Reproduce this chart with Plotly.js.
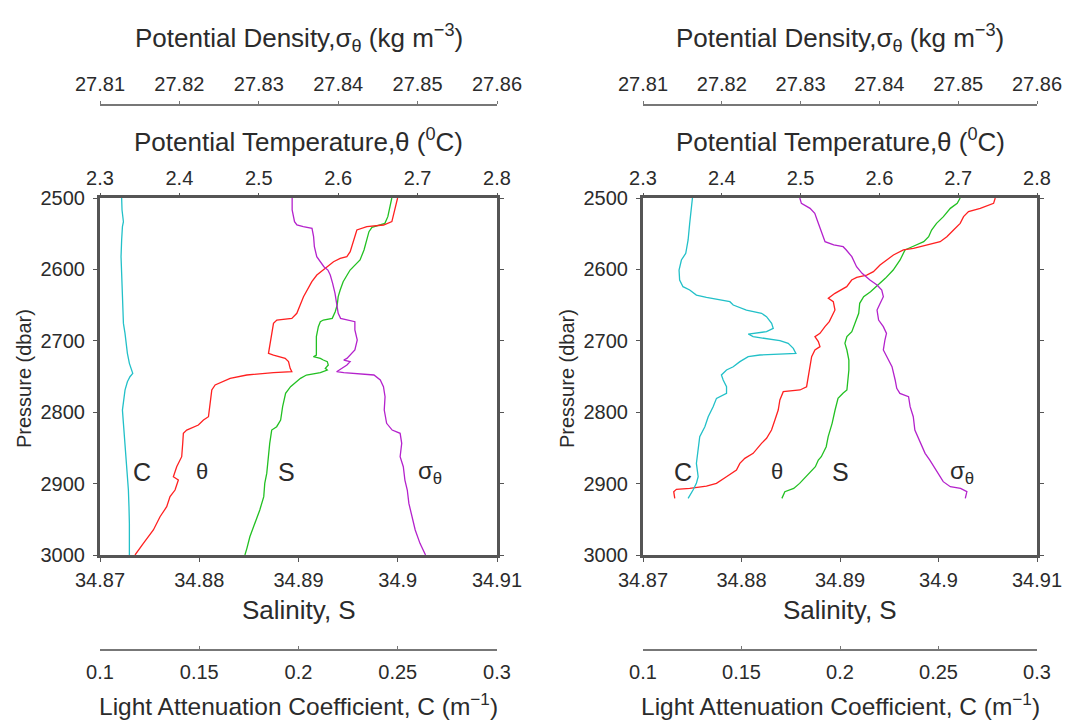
<!DOCTYPE html>
<html>
<head>
<meta charset="utf-8">
<script src="https://cdn.plot.ly/plotly-3.0.1.min.js"></script>
<style>html,body{margin:0;padding:0;background:#fff;}#chart{width:1065px;height:724px;}</style>
</head>
<body>
<div id="chart"></div>
<script>
// ---------- tick values / labels ----------
const pressureTicks = [2500, 2600, 2700, 2800, 2900, 3000];
const salinityTicks = [34.87, 34.88, 34.89, 34.90, 34.91];
const salinityLabels = ['34.87', '34.88', '34.89', '34.9', '34.91'];
const thetaTicks = [2.3, 2.4, 2.5, 2.6, 2.7, 2.8];
const thetaLabels = ['2.3', '2.4', '2.5', '2.6', '2.7', '2.8'];
const sigmaTicks = [27.81, 27.82, 27.83, 27.84, 27.85, 27.86];
const sigmaLabels = ['27.81', '27.82', '27.83', '27.84', '27.85', '27.86'];
const cTicks = [0.1, 0.15, 0.2, 0.25, 0.3];
const cLabels = ['0.1', '0.15', '0.2', '0.25', '0.3'];

// ---------- left panel ----------
const leftC_p = [2500, 2516.8, 2533.1, 2540.2, 2558.8, 2582.2, 2605.5, 2628.9, 2652.2, 2675.6, 2689.6, 2703.6, 2717.6, 2731.6, 2745.6, 2750.3, 2757.3, 2769.0, 2783.0, 2797.0, 2815.6, 2834.3, 2853.0, 2871.7, 2890.3, 2909.0, 2932.4, 2955.7, 3000];
const leftC = [0.1109, 0.1111, 0.1118, 0.1113, 0.1109, 0.1106, 0.1109, 0.1113, 0.1114, 0.1118, 0.1126, 0.1131, 0.1138, 0.1148, 0.1165, 0.1151, 0.1138, 0.1126, 0.1118, 0.1113, 0.1118, 0.1123, 0.1131, 0.1134, 0.1138, 0.1143, 0.1146, 0.1148, 0.1148];

const leftTheta_p = [2500, 2521.5, 2533.1, 2537.8, 2540.2, 2544.8, 2558.8, 2575.2, 2582.2, 2584.5, 2589.2, 2600.9, 2607.9, 2617.2, 2628.9, 2638.2, 2649.9, 2661.5, 2668.6, 2670.9, 2675.6, 2689.6, 2703.6, 2717.6, 2719.9, 2722.3, 2724.6, 2729.2, 2738.6, 2743.3, 2744.7, 2747.9, 2752.6, 2761.9, 2768.9, 2787.6, 2806.3, 2811.0, 2818.0, 2825.0, 2829.6, 2843.6, 2862.3, 2876.3, 2890.3, 2895.0, 2909.0, 2918.3, 2932.4, 2946.4, 2965.0, 2983.7, 2995.4, 3000];
const leftTheta = [2.6748, 2.6706, 2.6676, 2.6571, 2.6361, 2.6235, 2.6193, 2.6151, 2.6109, 2.6025, 2.5941, 2.5815, 2.5731, 2.5668, 2.5605, 2.5563, 2.5521, 2.5479, 2.5416, 2.5227, 2.5185, 2.5164, 2.5143, 2.5122, 2.5185, 2.5248, 2.5332, 2.5374, 2.5395, 2.5416, 2.5185, 2.4849, 2.4639, 2.4450, 2.4408, 2.4387, 2.4366, 2.4303, 2.4239, 2.4092, 2.4050, 2.4042, 2.4029, 2.3966, 2.3924, 2.3987, 2.3945, 2.3882, 2.3840, 2.3756, 2.3672, 2.3546, 2.3462, 2.3441];

const leftS_p = [2500, 2512.1, 2526.1, 2535.5, 2537.8, 2541.1, 2547.2, 2558.8, 2572.8, 2586.8, 2593.8, 2600.9, 2607.9, 2617.2, 2628.9, 2638.2, 2649.9, 2659.2, 2668.6, 2670.9, 2673.2, 2680.2, 2694.2, 2708.2, 2719.9, 2722.3, 2724.6, 2726.9, 2729.2, 2733.9, 2738.6, 2740.9, 2744.7, 2747.9, 2752.6, 2764.3, 2773.6, 2792.3, 2811.0, 2820.3, 2825.0, 2843.6, 2862.3, 2885.7, 2899.7, 2918.3, 2937.0, 2955.7, 2974.4, 2990.7, 3000];
const leftS = [34.8994, 34.8992, 34.8990, 34.8987, 34.8982, 34.8974, 34.8971, 34.8969, 34.8966, 34.8962, 34.8957, 34.8952, 34.8949, 34.8945, 34.8942, 34.8940, 34.8939, 34.8937, 34.8934, 34.8925, 34.8922, 34.8920, 34.8918, 34.8918, 34.8918, 34.8915, 34.8922, 34.8925, 34.8929, 34.8930, 34.8927, 34.8929, 34.8922, 34.8908, 34.8902, 34.8892, 34.8887, 34.8884, 34.8882, 34.8878, 34.8873, 34.8871, 34.8870, 34.8868, 34.8866, 34.8865, 34.8861, 34.8856, 34.8851, 34.8848, 34.8846];

const leftSigma_p = [2500, 2516.8, 2533.1, 2537.8, 2540.2, 2542.5, 2554.2, 2568.2, 2582.2, 2589.2, 2596.2, 2600.9, 2607.9, 2619.5, 2633.5, 2647.5, 2661.5, 2668.6, 2670.9, 2673.2, 2684.9, 2698.9, 2712.9, 2719.9, 2724.6, 2726.9, 2729.2, 2733.9, 2738.6, 2743.3, 2744.7, 2747.9, 2754.9, 2764.3, 2778.3, 2796.9, 2815.6, 2825.0, 2829.6, 2843.6, 2862.3, 2876.3, 2895.0, 2909.0, 2927.7, 2946.4, 2965.0, 2983.7, 2995.4, 3000];
const leftSigma = [27.8342, 27.8342, 27.8345, 27.8348, 27.8356, 27.8367, 27.8369, 27.8370, 27.8373, 27.8377, 27.8382, 27.8387, 27.8390, 27.8393, 27.8396, 27.8398, 27.8400, 27.8403, 27.8413, 27.8421, 27.8421, 27.8424, 27.8421, 27.8415, 27.8411, 27.8407, 27.8415, 27.8411, 27.8405, 27.8398, 27.8407, 27.8445, 27.8453, 27.8457, 27.8459, 27.8458, 27.8461, 27.8468, 27.8478, 27.8480, 27.8478, 27.8482, 27.8484, 27.8487, 27.8489, 27.8493, 27.8497, 27.8503, 27.8508, 27.8510];

// ---------- right panel ----------
const rightC_p = [2500, 2516.8, 2535.5, 2558.8, 2577.5, 2586.8, 2600.9, 2614.9, 2624.2, 2628.9, 2635.9, 2639.1, 2642.9, 2645.2, 2649.9, 2656.9, 2661.5, 2666.2, 2675.6, 2682.6, 2687.2, 2690.5, 2694.2, 2696.6, 2699.8, 2703.6, 2710.6, 2717.6, 2718.5, 2719.9, 2722.3, 2729.2, 2736.3, 2740.9, 2747.9, 2754.9, 2764.3, 2773.6, 2780.6, 2792.3, 2806.3, 2820.3, 2834.3, 2853.0, 2871.7, 2890.3, 2899.7, 2909.0, 2920.7];
const rightC = [0.1251, 0.1246, 0.1237, 0.1229, 0.1217, 0.1195, 0.1183, 0.1186, 0.1203, 0.1237, 0.1271, 0.1322, 0.1407, 0.1441, 0.1458, 0.1525, 0.1602, 0.1627, 0.1653, 0.1661, 0.1627, 0.1534, 0.1559, 0.1627, 0.1695, 0.1737, 0.1763, 0.1776, 0.1695, 0.1593, 0.1534, 0.1492, 0.1458, 0.1424, 0.1398, 0.1407, 0.1424, 0.1424, 0.1373, 0.1356, 0.1331, 0.1314, 0.1288, 0.1280, 0.1271, 0.1280, 0.1271, 0.1254, 0.1229];

const rightTheta_p = [2500, 2507.5, 2514.5, 2519.1, 2526.1, 2535.5, 2544.8, 2554.2, 2561.2, 2565.8, 2570.5, 2572.8, 2579.8, 2586.8, 2593.8, 2603.2, 2607.9, 2611.1, 2614.9, 2624.2, 2628.9, 2633.5, 2640.5, 2645.2, 2656.9, 2666.2, 2673.2, 2680.2, 2689.6, 2694.2, 2701.2, 2708.2, 2712.9, 2722.3, 2736.3, 2750.3, 2764.3, 2768.9, 2771.3, 2782.9, 2796.9, 2811.0, 2825.0, 2836.6, 2843.6, 2857.6, 2864.6, 2871.7, 2881.0, 2890.3, 2899.7, 2903.4, 2906.7, 2908.1, 2911.3, 2920.7];
const rightTheta = [2.7470, 2.7449, 2.7280, 2.7131, 2.7068, 2.7025, 2.6941, 2.6856, 2.6771, 2.6602, 2.6432, 2.6305, 2.6178, 2.6093, 2.6008, 2.5924, 2.5839, 2.5712, 2.5648, 2.5585, 2.5500, 2.5436, 2.5352, 2.5415, 2.5436, 2.5394, 2.5364, 2.5309, 2.5246, 2.5182, 2.5225, 2.5246, 2.5182, 2.5140, 2.5119, 2.5097, 2.5076, 2.4992, 2.4780, 2.4737, 2.4716, 2.4674, 2.4631, 2.4568, 2.4504, 2.4398, 2.4292, 2.4229, 2.4186, 2.4059, 2.3932, 2.3805, 2.3593, 2.3424, 2.3390, 2.3403];

const rightS_p = [2500, 2507.5, 2514.5, 2526.1, 2535.5, 2544.8, 2554.2, 2561.2, 2567.2, 2572.8, 2586.8, 2600.9, 2612.5, 2621.9, 2631.2, 2638.2, 2647.5, 2661.5, 2675.6, 2687.2, 2694.2, 2703.6, 2712.9, 2726.9, 2740.9, 2759.6, 2768.9, 2773.6, 2780.6, 2796.9, 2815.6, 2834.3, 2848.3, 2862.3, 2867.0, 2876.3, 2890.3, 2899.7, 2906.7, 2911.3, 2920.7];
const rightS = [34.9022, 34.9019, 34.9012, 34.9005, 34.8998, 34.8993, 34.8990, 34.8985, 34.8975, 34.8966, 34.8961, 34.8954, 34.8946, 34.8939, 34.8931, 34.8924, 34.8920, 34.8919, 34.8915, 34.8912, 34.8907, 34.8905, 34.8907, 34.8909, 34.8909, 34.8908, 34.8907, 34.8903, 34.8898, 34.8895, 34.8892, 34.8888, 34.8886, 34.8881, 34.8878, 34.8875, 34.8866, 34.8859, 34.8853, 34.8844, 34.8841];

const rightSigma_p = [2500, 2507.5, 2514.5, 2521.5, 2530.8, 2540.2, 2551.8, 2561.2, 2565.8, 2568.2, 2572.8, 2582.2, 2596.2, 2605.5, 2614.9, 2621.9, 2628.9, 2638.2, 2647.5, 2656.9, 2670.9, 2680.2, 2689.6, 2698.9, 2712.9, 2722.3, 2736.3, 2754.9, 2766.6, 2773.6, 2778.3, 2792.3, 2806.3, 2825.0, 2843.6, 2857.6, 2867.0, 2876.3, 2885.7, 2897.3, 2904.3, 2906.7, 2911.3, 2920.7];
const rightSigma = [27.8299, 27.8301, 27.8312, 27.8318, 27.8321, 27.8324, 27.8327, 27.8331, 27.8342, 27.8354, 27.8358, 27.8365, 27.8371, 27.8378, 27.8388, 27.8397, 27.8403, 27.8405, 27.8401, 27.8397, 27.8399, 27.8405, 27.8409, 27.8407, 27.8405, 27.8409, 27.8416, 27.8420, 27.8422, 27.8426, 27.8437, 27.8439, 27.8443, 27.8445, 27.8452, 27.8458, 27.8464, 27.8469, 27.8475, 27.8481, 27.8490, 27.8503, 27.8511, 27.8509];

// ---------- styling ----------
const FONT = '"Liberation Sans", Arial, Helvetica, sans-serif';
const TXT = '#2b2b2b';
const FRAME = '#555555';
const colC = '#22c0c8', colTheta = '#ff2020', colS = '#22c022', colSigma = '#b422cc';
const W = 1065, H = 724;
const leftDom = [100 / W, 497 / W];
const rightDom = [643 / W, 1037 / W];
const yDom = [1 - 555 / H, 1 - 198 / H];
const sigmaPos = 1 - 104 / H;
const cPos = 1 - 649 / H;
const tickFont = {family: FONT, size: 20, color: TXT};

function line(x, y, xa, ya, color) {
  return {x: x, y: y, xaxis: xa, yaxis: ya, type: 'scatter', mode: 'lines',
          line: {color: color, width: 1.3}, hoverinfo: 'skip', showlegend: false};
}

const data = [
  line(leftC, leftC_p, 'x4', 'y', colC),
  line(leftTheta, leftTheta_p, 'x2', 'y', colTheta),
  line(leftS, leftS_p, 'x', 'y', colS),
  line(leftSigma, leftSigma_p, 'x3', 'y', colSigma),
  line(rightC, rightC_p, 'x8', 'y2', colC),
  line(rightTheta, rightTheta_p, 'x6', 'y2', colTheta),
  line(rightS, rightS_p, 'x5', 'y2', colS),
  line(rightSigma, rightSigma_p, 'x7', 'y2', colSigma)
];

function salAxis(dom, ya) {
  return {domain: dom, anchor: ya, side: 'bottom', range: [34.87, 34.91], tickvals: salinityTicks, ticktext: salinityLabels,
          ticks: 'outside', ticklen: 4, tickwidth: 1, tickcolor: FRAME, showline: true, linewidth: 3, linecolor: FRAME,
          mirror: true, showgrid: false, zeroline: false, tickfont: tickFont, ticklabelstandoff: 1, fixedrange: true};
}
function thetaAxis(dom, base, ya) {
  return {domain: dom, overlaying: base, anchor: ya, side: 'top', range: [2.3, 2.8], tickvals: thetaTicks, ticktext: thetaLabels,
          ticks: 'outside', ticklen: 4, tickwidth: 1, tickcolor: FRAME, showline: false, showgrid: false, zeroline: false,
          tickfont: tickFont, ticklabelstandoff: 0, fixedrange: true};
}
function sigmaAxis(dom, base) {
  return {domain: dom, overlaying: base, anchor: 'free', position: sigmaPos, side: 'top', range: [27.81, 27.86],
          tickvals: sigmaTicks, ticktext: sigmaLabels, ticks: 'outside', ticklen: 3, tickwidth: 1, tickcolor: '#777',
          showline: true, linewidth: 1.5, linecolor: '#777', showgrid: false, zeroline: false, tickfont: tickFont,
          ticklabelstandoff: 2, fixedrange: true};
}
function cAxis(dom, base) {
  return {domain: dom, overlaying: base, anchor: 'free', position: cPos, side: 'bottom', range: [0.1, 0.3],
          tickvals: cTicks, ticktext: cLabels, ticks: 'inside', ticklen: 3, tickwidth: 1, tickcolor: '#777',
          showline: true, linewidth: 1.5, linecolor: '#777', showgrid: false, zeroline: false, tickfont: tickFont,
          ticklabelstandoff: 4, fixedrange: true};
}
function presAxis(xa) {
  return {domain: yDom, anchor: xa, range: [3000, 2500], tickvals: pressureTicks, ticktext: pressureTicks.map(String),
          ticks: 'outside', ticklen: 4, tickwidth: 1, tickcolor: FRAME, showline: true, linewidth: 3, linecolor: FRAME,
          mirror: 'ticks', showgrid: false, zeroline: false, tickfont: tickFont, ticklabelstandoff: 4, fixedrange: true};
}

function ann(text, xpx, ypx, size, extra) {
  return Object.assign({text: text, xref: 'paper', yref: 'paper', x: xpx / W, y: 1 - ypx / H,
          xanchor: 'center', yanchor: 'middle', showarrow: false,
          font: {family: FONT, size: size, color: TXT}}, extra || {});
}

const annotations = [];
[298.5, 840].forEach(function (cx) {
  annotations.push(ann('Potential Density,σ<sub>θ</sub> (kg m<sup>−3</sup>)', cx, 38, 26));
  annotations.push(ann('Potential Temperature,θ (<sup>0</sup>C)', cx, 140, 26));
  annotations.push(ann('Salinity, S', cx, 610, 26));
  annotations.push(ann('Light Attenuation Coefficient, C (m<sup>−1</sup>)', cx, 704, 24.5));
});
annotations.push(ann('Pressure (dbar)', 24, 379, 20, {textangle: -90}));
annotations.push(ann('Pressure (dbar)', 567, 379, 20, {textangle: -90}));
// curve labels
annotations.push(ann('C', 141.7, 471.7, 25));
annotations.push(ann('θ', 201.7, 471.7, 22));
annotations.push(ann('S', 286.7, 471.7, 25));
annotations.push(ann('σ<sub>θ</sub>', 430, 472, 24));
annotations.push(ann('C', 683.3, 471.7, 25));
annotations.push(ann('θ', 776.7, 471.7, 22));
annotations.push(ann('S', 840, 471.7, 25));
annotations.push(ann('σ<sub>θ</sub>', 962, 472, 24));

const layout = {
  width: W, height: H,
  margin: {l: 0, r: 0, t: 0, b: 0},
  paper_bgcolor: '#ffffff', plot_bgcolor: '#ffffff',
  showlegend: false,
  font: {family: FONT, color: TXT},
  xaxis: salAxis(leftDom, 'y'),
  xaxis2: thetaAxis(leftDom, 'x', 'y'),
  xaxis3: sigmaAxis(leftDom, 'x'),
  xaxis4: cAxis(leftDom, 'x'),
  xaxis5: salAxis(rightDom, 'y2'),
  xaxis6: thetaAxis(rightDom, 'x5', 'y2'),
  xaxis7: sigmaAxis(rightDom, 'x5'),
  xaxis8: cAxis(rightDom, 'x5'),
  yaxis: presAxis('x'),
  yaxis2: presAxis('x5'),
  annotations: annotations
};

Plotly.newPlot('chart', data, layout, {displayModeBar: false, staticPlot: true});
</script>
</body>
</html>
